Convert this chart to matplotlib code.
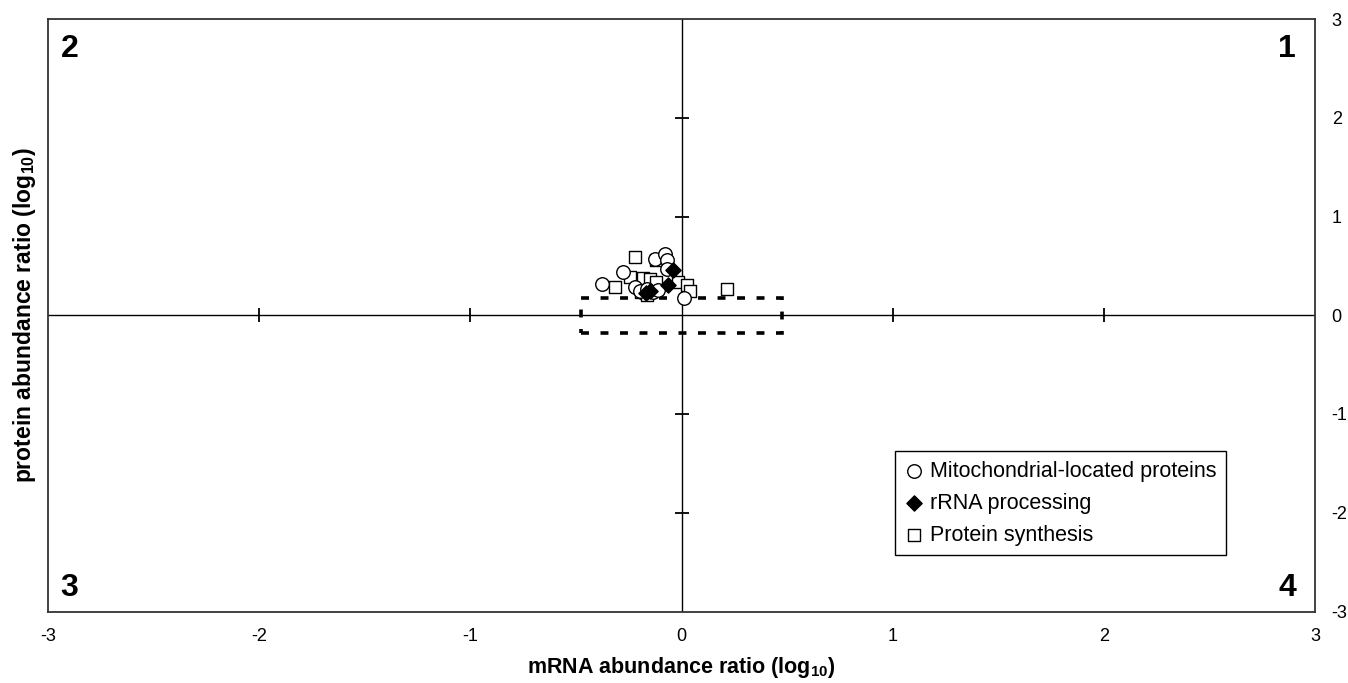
import matplotlib

matplotlib.use("Agg")
import matplotlib.pyplot as plt
from matplotlib.patches import Rectangle

plt.rcParams["font.family"] = ["Liberation Sans", "DejaVu Sans"]
plt.rcParams["mathtext.fontset"] = "custom"
plt.rcParams["mathtext.rm"] = "Liberation Sans"
plt.rcParams["mathtext.bf"] = "Liberation Sans:bold"

# log10 ratios
mito_x = [-0.378, -0.276, -0.125, -0.078, -0.07, -0.07, -0.22, -0.196, -0.135, -0.165, 0.01, -0.11]
mito_y = [0.314, 0.44, 0.57, 0.62, 0.56, 0.47, 0.29, 0.25, 0.24, 0.27, 0.17, 0.26]
rrna_x = [-0.039, -0.062, -0.168, -0.15]
rrna_y = [0.456, 0.31, 0.23, 0.25]
prot_x = [-0.22, -0.315, -0.244, -0.18, -0.15, -0.12, -0.19, -0.165, -0.12, -0.015, 0.027, 0.04, 0.217]
prot_y = [0.59, 0.287, 0.39, 0.38, 0.37, 0.34, 0.236, 0.21, 0.56, 0.34, 0.31, 0.25, 0.27]

# unchanged window: 3-fold mRNA, 1.5-fold protein
box_x = 0.477
box_y = 0.176

ticks = [-3, -2, -1, 0, 1, 2, 3]
inner_ticks = [-2, -1, 1, 2]
quadrants = [("1", 0.985, 0.975, "right", "top"), ("2", 0.01, 0.975, "left", "top"),
             ("3", 0.01, 0.015, "left", "bottom"), ("4", 0.985, 0.015, "right", "bottom")]

fig = plt.figure(figsize=(13.48, 6.83), dpi=100)
ax = fig.add_axes([48 / 1348, 1 - 611.5 / 683, 1267 / 1348, 592.5 / 683])
ax.set_xlim(-3, 3)
ax.set_ylim(-3, 3)

for s in ax.spines.values():
    s.set_color("#333333")
    s.set_linewidth(1.3)

# axes through the origin, with ticks crossing them
ax.axhline(0, color="black", lw=1.0, zorder=1)
ax.axvline(0, color="black", lw=1.0, zorder=1)
ax.plot(inner_ticks, [0] * len(inner_ticks), ls="none", marker="|", ms=10,
        mew=1.3, color="black", zorder=1)
ax.plot([0] * len(inner_ticks), inner_ticks, ls="none", marker="_", ms=10,
        mew=1.3, color="black", zorder=1)

ax.add_patch(Rectangle((-box_x, -box_y), 2 * box_x, 2 * box_y, fill=False,
                       ec="black", lw=2.6, ls=(0, (2.2, 3.2)), zorder=2))

ax.scatter(prot_x, prot_y, marker="s", s=85, facecolor="white", edgecolor="black",
           lw=1.0, zorder=3, label="Protein synthesis")
ax.scatter(mito_x, mito_y, marker="o", s=95, facecolor="white", edgecolor="black",
           lw=1.0, zorder=4, label="Mitochondrial-located proteins")
ax.scatter(rrna_x, rrna_y, marker="D", s=60, facecolor="black", edgecolor="black",
           lw=1.0, zorder=5, label="rRNA processing")

for txt, fx, fy, ha, va in quadrants:
    ax.text(fx, fy, txt, transform=ax.transAxes, fontsize=23, fontweight="bold",
            ha=ha, va=va)

ax.set_xticks(ticks)
ax.set_xticklabels([str(t) for t in ticks])
ax.set_yticks(ticks)
ax.set_yticklabels([str(t) for t in ticks])
ax.yaxis.tick_right()
ax.tick_params(length=0, labelsize=13, pad=12)
ax.tick_params(axis="y", pad=12)

ax.set_xlabel("mRNA abundance ratio (log$_{\\mathbf{10}}$)", fontsize=15.5,
              fontweight="bold", labelpad=7)
ax.set_ylabel("protein abundance ratio (log$_{\\mathbf{10}}$)", fontsize=16.5,
              fontweight="bold", labelpad=7)
ax.yaxis.set_label_position("left")

h, l = ax.get_legend_handles_labels()
order = [1, 2, 0]
leg = ax.legend([h[i] for i in order], [l[i] for i in order], loc="lower right",
                bbox_to_anchor=(0.93, 0.095), borderaxespad=0, fontsize=15.5,
                fancybox=False, edgecolor="black", framealpha=1,
                handletextpad=0.3, handlelength=0.9, borderpad=0.45,
                labelspacing=0.5, markerscale=1.0)
leg.get_frame().set_linewidth(1.0)

fig.savefig("out.png", dpi=100)
